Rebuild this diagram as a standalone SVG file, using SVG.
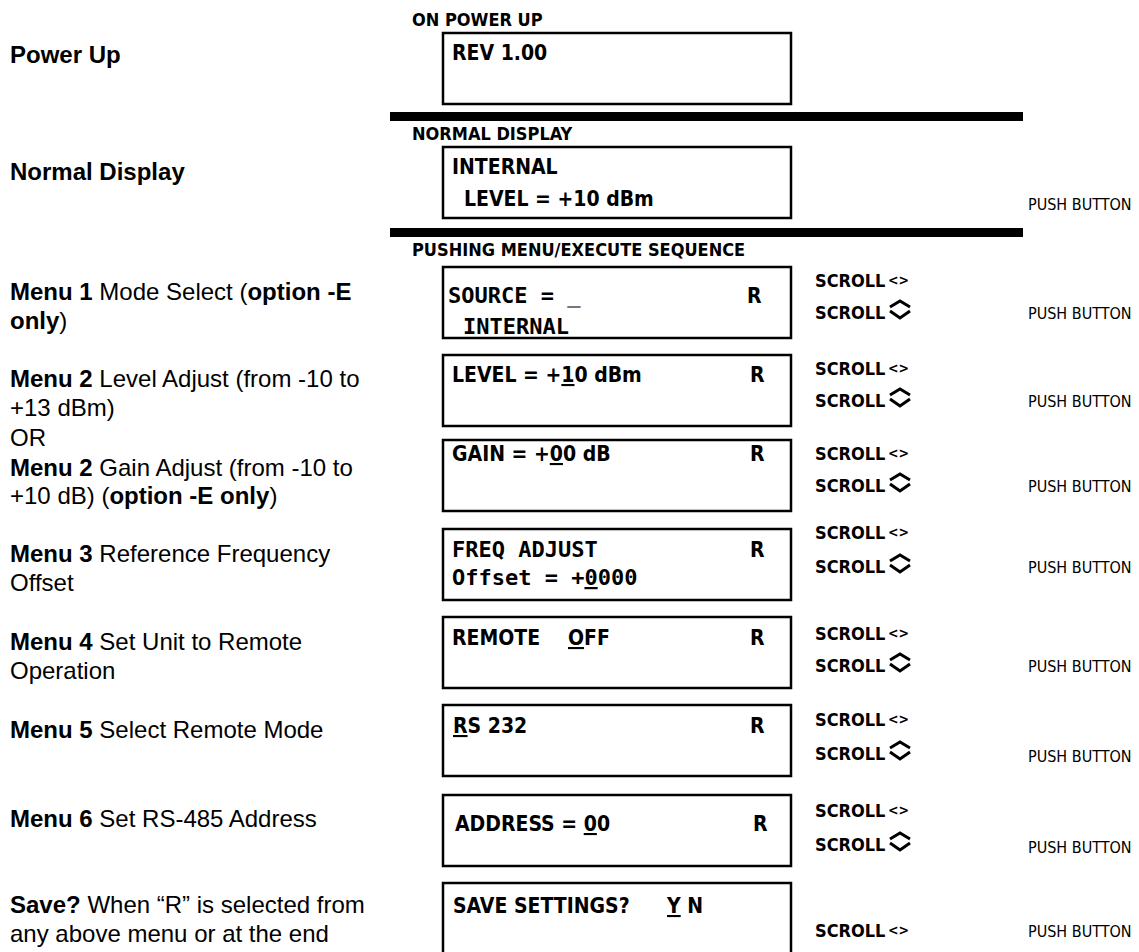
<svg xmlns="http://www.w3.org/2000/svg" width="1139" height="952" viewBox="0 0 1139 952">
<style>
.lbl{font-family:"Liberation Sans",Arial,sans-serif;font-size:24px;fill:#000}
.b{font-weight:bold}
.hdr{font-family:"DejaVu Sans Condensed","DejaVu Sans",sans-serif;font-weight:bold;font-size:18px;fill:#000}
.disp{font-family:"DejaVu Sans Condensed","DejaVu Sans",sans-serif;font-weight:bold;font-size:21px;fill:#000}
.mono{font-family:"DejaVu Sans Mono",monospace;font-weight:bold;font-size:22px;fill:#000}
.scr{font-family:"DejaVu Sans Condensed","DejaVu Sans",sans-serif;font-weight:bold;font-size:18px;fill:#000}
.arr{font-family:"DejaVu Sans Condensed","DejaVu Sans",sans-serif;font-weight:bold;font-size:14px;fill:#000}
.push{font-family:"DejaVu Sans Condensed","DejaVu Sans",sans-serif;font-size:16px;fill:#000}
.box{fill:#fff;stroke:#000;stroke-width:2.5}
.bar{fill:#000}
.chev{fill:none;stroke:#000;stroke-width:3}
.u{text-decoration:underline}
</style>
<defs>
<g id="chevs"><polyline class="chev" points="0,-12 10,-18 20,-12"/><polyline class="chev" points="0,-8 10,-1 20,-8"/></g>
</defs>
<rect width="1139" height="952" fill="#fff"/>
<g id="labels">
<text class="lbl b" x="10" y="63">Power Up</text>
<text class="lbl b" x="10" y="180">Normal Display</text>
<text class="lbl" x="10" y="300"><tspan class="b">Menu 1</tspan>  Mode Select (<tspan class="b">option -E</tspan></text>
<text class="lbl" x="10" y="329"><tspan class="b">only</tspan>)</text>
<text class="lbl" x="10" y="387"><tspan class="b">Menu 2</tspan>  Level Adjust (from -10 to</text>
<text class="lbl" x="10" y="416">+13 dBm)</text>
<text class="lbl" x="10" y="446">OR</text>
<text class="lbl" x="10" y="476"><tspan class="b">Menu 2</tspan>  Gain Adjust (from -10 to</text>
<text class="lbl" x="10" y="504">+10 dB) (<tspan class="b">option -E only</tspan>)</text>
<text class="lbl" x="10" y="562"><tspan class="b">Menu 3</tspan>  Reference Frequency</text>
<text class="lbl" x="10" y="591">Offset</text>
<text class="lbl" x="10" y="650"><tspan class="b">Menu 4</tspan>  Set Unit to Remote</text>
<text class="lbl" x="10" y="679">Operation</text>
<text class="lbl" x="10" y="738"><tspan class="b">Menu 5</tspan> Select Remote Mode</text>
<text class="lbl" x="10" y="827"><tspan class="b">Menu 6</tspan> Set RS-485 Address</text>
<text class="lbl" x="10" y="913"><tspan class="b">Save?</tspan> When “R” is selected from</text>
<text class="lbl" x="10" y="942">any above menu or at the end</text>
</g>
<g id="separators">
<rect class="bar" x="390" y="112" width="633" height="9"/>
<rect class="bar" x="390" y="228" width="633" height="9"/>
</g>
<g id="connectors"></g>
<g id="power-up">
<text class="hdr" x="412" y="26">ON POWER UP</text>
<rect class="box" x="443" y="33" width="348" height="71"/>
<text class="disp" x="452" y="60">REV 1.00</text>
</g>
<g id="normal-display">
<text class="hdr" x="412" y="140">NORMAL DISPLAY</text>
<rect class="box" x="443" y="147" width="348" height="71"/>
<text class="disp" x="452" y="174">INTERNAL</text>
<text class="disp" x="464" y="206">LEVEL = +10 dBm</text>
<text class="push" x="1028" y="210">PUSH BUTTON</text>
</g>
<text class="hdr" x="412" y="256">PUSHING MENU/EXECUTE SEQUENCE</text>
<g id="menu1">
<rect class="box" x="443" y="267" width="348" height="71"/>
<text class="mono" x="448" y="303">SOURCE = <tspan fill="#777">_</tspan></text>
<text class="disp" x="747" y="303">R</text>
<text class="mono" x="463" y="334">INTERNAL</text>
<text class="scr" x="815" y="287">SCROLL</text><text class="arr" x="888" y="285">&lt;&gt;</text>
<text class="scr" x="815" y="319">SCROLL</text><use href="#chevs" x="890" y="319"/>
<text class="push" x="1028" y="319">PUSH BUTTON</text>
</g>
<g id="menu2-level">
<rect class="box" x="443" y="355" width="348" height="71"/>
<text class="disp" x="452" y="382">LEVEL = +<tspan class="u">1</tspan>0 dBm</text>
<text class="disp" x="750" y="382">R</text>
<text class="scr" x="815" y="375">SCROLL</text><text class="arr" x="888" y="373">&lt;&gt;</text>
<text class="scr" x="815" y="407">SCROLL</text><use href="#chevs" x="890" y="407"/>
<text class="push" x="1028" y="407">PUSH BUTTON</text>
</g>
<g id="menu2-gain">
<rect class="box" x="443" y="440" width="348" height="71"/>
<text class="disp" x="452" y="461">GAIN = +<tspan class="u">0</tspan>0 dB</text>
<text class="disp" x="750" y="461">R</text>
<text class="scr" x="815" y="460">SCROLL</text><text class="arr" x="888" y="458">&lt;&gt;</text>
<text class="scr" x="815" y="492">SCROLL</text><use href="#chevs" x="890" y="492"/>
<text class="push" x="1028" y="492">PUSH BUTTON</text>
</g>
<g id="menu3-freq">
<rect class="box" x="443" y="529" width="348" height="71"/>
<text class="mono" x="452" y="557">FREQ ADJUST</text>
<text class="disp" x="750" y="557">R</text>
<text class="mono" x="452" y="585">Offset = +<tspan class="u">0</tspan>000</text>
<text class="scr" x="815" y="539">SCROLL</text><text class="arr" x="888" y="537">&lt;&gt;</text>
<text class="scr" x="815" y="573">SCROLL</text><use href="#chevs" x="890" y="573"/>
<text class="push" x="1028" y="573">PUSH BUTTON</text>
</g>
<g id="menu4-remote">
<rect class="box" x="443" y="617" width="348" height="71"/>
<text class="disp" x="452" y="645">REMOTE</text>
<text class="disp" x="568" y="645"><tspan class="u">O</tspan>FF</text>
<text class="disp" x="750" y="645">R</text>
<text class="scr" x="815" y="640">SCROLL</text><text class="arr" x="888" y="638">&lt;&gt;</text>
<text class="scr" x="815" y="672">SCROLL</text><use href="#chevs" x="890" y="672"/>
<text class="push" x="1028" y="672">PUSH BUTTON</text>
</g>
<g id="menu5-mode">
<rect class="box" x="443" y="705" width="348" height="71"/>
<text class="disp" x="453" y="733"><tspan class="u">R</tspan>S 232</text>
<text class="disp" x="750" y="733">R</text>
<text class="scr" x="815" y="726">SCROLL</text><text class="arr" x="888" y="724">&lt;&gt;</text>
<text class="scr" x="815" y="760">SCROLL</text><use href="#chevs" x="890" y="760"/>
<text class="push" x="1028" y="762">PUSH BUTTON</text>
</g>
<g id="menu6-address">
<rect class="box" x="443" y="795" width="348" height="71"/>
<text class="disp" x="455" y="831">ADDRESS = <tspan class="u">0</tspan>0</text>
<text class="disp" x="753" y="831">R</text>
<text class="scr" x="815" y="817">SCROLL</text><text class="arr" x="888" y="815">&lt;&gt;</text>
<text class="scr" x="815" y="851">SCROLL</text><use href="#chevs" x="890" y="851"/>
<text class="push" x="1028" y="853">PUSH BUTTON</text>
</g>
<g id="save">
<rect class="box" x="443" y="883" width="348" height="80"/>
<text class="disp" x="453" y="913">SAVE SETTINGS?</text>
<text class="disp" x="667" y="913"><tspan class="u">Y</tspan> N</text>
<text class="scr" x="815" y="937">SCROLL</text><text class="arr" x="888" y="935">&lt;&gt;</text>
<text class="push" x="1028" y="937">PUSH BUTTON</text>
</g>
</svg>
